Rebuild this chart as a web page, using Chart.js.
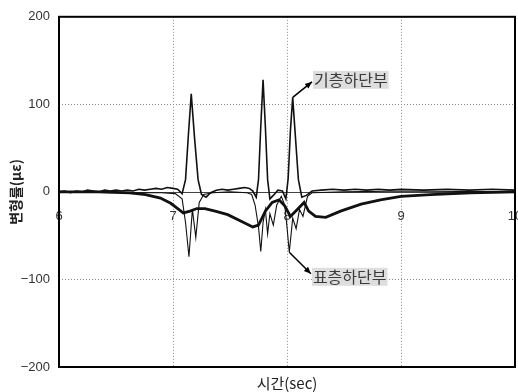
<!DOCTYPE html>
<html>
<head>
<meta charset="utf-8">
<script src="https://cdn.jsdelivr.net/npm/chart.js@4/dist/chart.umd.min.js"></script>
<style>
html, body { margin: 0; padding: 0; background: #fff; }
</style>
</head>
<body>
<canvas id="strainChart" width="518" height="392"></canvas>
<script>
// Axis ticks
const timeTicks = [6, 7, 8, 9, 10];
const strainTicks = [-200, -100, 0, 100, 200];

// Base layer bottom (thin line with the three tension peaks)
const baseTime = [6.00, 6.05, 6.10, 6.15, 6.20, 6.25, 6.30, 6.35, 6.40, 6.45, 6.50, 6.55, 6.60, 6.65, 6.70, 6.75, 6.80, 6.85, 6.90, 6.95,
    7.00, 7.04, 7.08, 7.11, 7.135, 7.16, 7.19, 7.22, 7.25, 7.29, 7.33, 7.38, 7.43, 7.48, 7.53, 7.58, 7.63, 7.67, 7.70, 7.73,
    7.75, 7.77, 7.79, 7.81, 7.83, 7.85, 7.88, 7.92, 7.96, 7.99, 8.01, 8.03, 8.05, 8.07, 8.10, 8.13, 8.17, 8.22, 8.30, 8.40,
    8.50, 8.60, 8.70, 8.80, 8.90, 9.00, 9.20, 9.40, 9.60, 9.80, 10.00];
const baseStrain = [0, 1, -1, 1, 0, 2, 1, 0, 2, 1, 2, 1, 2, 1, 3, 2, 3, 4, 3, 5,
    4, 3, -2, 14, 65, 112, 60, 14, -3, -6, -1, 2, 3, 2, 3, 4, 5, 4, 1, -6,
    14, 75, 128, 75, 14, -8, -4, 2, 1, -8, 15, 70, 108, 70, 14, -6, -4, 1, 2, 3,
    2, 3, 2, 3, 2, 3, 2, 3, 2, 3, 2];

// Surface layer bottom (thin line with the sharp dips)
const surfTime = [6.00, 6.50, 6.90, 7.02, 7.08, 7.11, 7.14, 7.17, 7.20, 7.23, 7.27, 7.35, 7.50, 7.65, 7.69, 7.72, 7.75, 7.77, 7.79, 7.81,
    7.83, 7.85, 7.88, 7.91, 7.95, 7.98, 8.00, 8.02, 8.05, 8.08, 8.11, 8.14, 8.18, 8.22, 8.50, 9.00, 10.00];
const surfStrain = [0, -1, -1, -2, -8, -35, -74, -20, -52, -12, -3, -1, 0, -1, -3, -15, -40, -68, -35, -20,
    -48, -25, -38, -15, -5, -15, -40, -69, -30, -42, -20, -28, -5, -1, 0, 1, 0];

// Thick smooth compressive curve
const trendTime = [6.00, 6.36, 6.62, 6.76, 6.89, 6.98, 7.05, 7.09, 7.15, 7.21, 7.28, 7.37, 7.48, 7.62, 7.70, 7.75, 7.81, 7.87, 7.93, 7.98,
    8.03, 8.09, 8.15, 8.19, 8.25, 8.34, 8.47, 8.65, 8.82, 9.00, 9.26, 9.61, 10.00];
const trendStrain = [0, 0, -1, -3, -7, -13, -20, -24, -22, -19, -19, -22, -26, -35, -40, -38, -22, -12, -9, -16,
    -28, -20, -12, -22, -28, -29, -22, -14, -9, -5, -3, -1, 0];

const calloutLabels = ['기층하단부', '표층하단부'];

function toPoints(xs, ys) {
    return xs.map((x, i) => ({ x: x, y: ys[i] }));
}

function setTicks(values) {
    return scale => { scale.ticks = values.map(v => ({ value: v })); };
}

const tickFont = { family: '"Liberation Sans", Arial, sans-serif', size: 13 };

// Dotted grid, solid zero line, heavy frame
const framePlugin = {
    id: 'frame',
    beforeDatasetsDraw(chart) {
        const { ctx, chartArea: a, scales } = chart;
        ctx.save();
        ctx.strokeStyle = '#8a8a8a';
        ctx.lineWidth = 1;
        ctx.setLineDash([1, 2]);
        timeTicks.slice(1, -1).forEach(v => {
            const x = Math.round(scales.x.getPixelForValue(v)) + 0.5;
            ctx.beginPath(); ctx.moveTo(x, a.top); ctx.lineTo(x, a.bottom); ctx.stroke();
        });
        strainTicks.slice(1, -1).filter(v => v !== 0).forEach(v => {
            const y = Math.round(scales.y.getPixelForValue(v)) + 0.5;
            ctx.beginPath(); ctx.moveTo(a.left, y); ctx.lineTo(a.right, y); ctx.stroke();
        });
        ctx.setLineDash([]);
        ctx.strokeStyle = '#444';
        const y0 = Math.round(scales.y.getPixelForValue(0)) + 0.5;
        ctx.beginPath(); ctx.moveTo(a.left, y0); ctx.lineTo(a.right, y0); ctx.stroke();
        ctx.restore();
    },
    afterDatasetsDraw(chart) {
        const { ctx, chartArea: a } = chart;
        ctx.save();
        ctx.strokeStyle = '#000';
        ctx.lineWidth = 2;
        ctx.strokeRect(a.left, a.top, a.width, a.height);
        ctx.restore();
    }
};

// Labels with arrows pointing at the curves (data coordinates)
const callouts = [
    { text: calloutLabels[0], from: [8.05, 108], at: [8.56, 128] },
    { text: calloutLabels[1], from: [8.02, -69], at: [8.55, -97] }
];

const calloutPlugin = {
    id: 'callouts',
    afterDatasetsDraw(chart) {
        const { ctx, scales } = chart;
        ctx.save();
        ctx.font = '16px "Noto Sans CJK KR", sans-serif';
        callouts.forEach(c => {
            const fx = scales.x.getPixelForValue(c.from[0]);
            const fy = scales.y.getPixelForValue(c.from[1]);
            const tx = scales.x.getPixelForValue(c.at[0]);
            const ty = scales.y.getPixelForValue(c.at[1]);
            const w = ctx.measureText(c.text).width;
            ctx.fillStyle = '#dedede';
            ctx.fillRect(tx - w / 2 - 1, ty - 9, w + 2, 18);
            ctx.fillStyle = '#3a3a3a';
            ctx.textAlign = 'center';
            ctx.textBaseline = 'middle';
            ctx.fillText(c.text, tx, ty);

            const ex = tx - w / 2 - 2;
            const ey = ty + (fy < ty ? -3 : 2);
            ctx.strokeStyle = '#000';
            ctx.fillStyle = '#000';
            ctx.lineWidth = 1.5;
            ctx.beginPath(); ctx.moveTo(fx, fy); ctx.lineTo(ex, ey); ctx.stroke();
            const ang = Math.atan2(ey - fy, ex - fx);
            ctx.beginPath();
            ctx.moveTo(ex, ey);
            ctx.lineTo(ex - 7 * Math.cos(ang) + 3 * Math.sin(ang), ey - 7 * Math.sin(ang) - 3 * Math.cos(ang));
            ctx.lineTo(ex - 7 * Math.cos(ang) - 3 * Math.sin(ang), ey - 7 * Math.sin(ang) + 3 * Math.cos(ang));
            ctx.closePath();
            ctx.fill();
        });
        ctx.restore();
    }
};

// No label overflow padding: the "10" is allowed to run off the canvas
function noOverflow(scale) {
    scale.paddingLeft = 0;
    scale.paddingRight = 0;
}

const lineStyle = { showLine: true, pointRadius: 0, borderColor: '#111', tension: 0, fill: false };

const ctx = document.getElementById('strainChart').getContext('2d');
new Chart(ctx, {
    type: 'scatter',
    data: {
        datasets: [
            Object.assign({ label: calloutLabels[0], data: toPoints(baseTime, baseStrain), borderWidth: 1.6 }, lineStyle),
            Object.assign({ label: calloutLabels[1], data: toPoints(surfTime, surfStrain), borderWidth: 1.1 }, lineStyle),
            Object.assign({ label: '', data: toPoints(trendTime, trendStrain), borderWidth: 2.8 }, lineStyle)
        ]
    },
    options: {
        responsive: false,
        animation: false,
        layout: { padding: { top: 15, right: 3, left: 0, bottom: 0 } },
        plugins: {
            legend: { display: false },
            tooltip: { enabled: false }
        },
        scales: {
            x: {
                type: 'linear',
                min: 6,
                max: 10,
                afterBuildTicks: setTicks(timeTicks),
                afterFit: scale => { scale.height = 25; noOverflow(scale); },
                ticks: { display: false },
                grid: { display: false, drawTicks: false },
                border: { display: false },
                title: {
                    display: true,
                    text: '시간(sec)',
                    color: '#222',
                    font: { family: '"Noto Sans CJK KR", sans-serif', size: 15 },
                    padding: { top: 0, bottom: 0 }
                }
            },
            xt: {
                type: 'linear',
                axis: 'x',
                position: { y: 0 },
                min: 6,
                max: 10,
                afterBuildTicks: setTicks(timeTicks),
                afterFit: noOverflow,
                ticks: { padding: 17, color: '#333', font: tickFont, maxRotation: 0 },
                grid: { display: false, drawTicks: false, tickLength: 0 },
                border: { display: false }
            },
            y: {
                type: 'linear',
                min: -200,
                max: 200,
                afterBuildTicks: setTicks(strainTicks),
                afterFit: scale => { scale.width = 59; },
                ticks: {
                    padding: 9,
                    color: '#333',
                    font: tickFont,
                    callback: v => String(v).replace('-', '\u2212')
                },
                grid: { display: false, drawTicks: false },
                border: { display: false },
                title: {
                    display: true,
                    text: '변형률(με)',
                    color: '#222',
                    font: { family: '"Noto Sans CJK KR", sans-serif', size: 14, weight: 'bold' },
                    padding: { top: 7, bottom: 0 }
                }
            }
        }
    },
    plugins: [framePlugin, calloutPlugin]
});
</script>
</body>
</html>
